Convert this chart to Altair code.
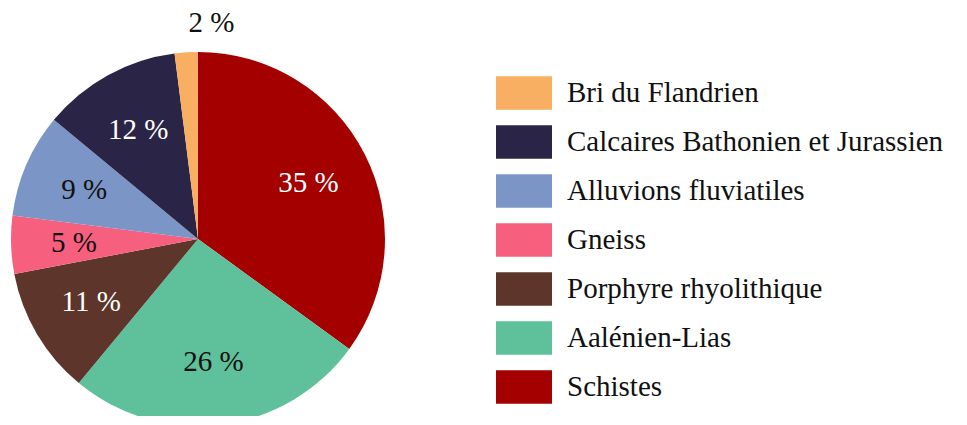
import altair as alt
import pandas as pd

categories = ["Schistes", "Aalénien-Lias", "Porphyre rhyolithique", "Gneiss",
              "Alluvions fluviatiles", "Calcaires Bathonien et Jurassien", "Bri du Flandrien"]
values = [35, 26, 11, 5, 9, 12, 2]
colors = ["#A40000", "#5EC19B", "#5E352A", "#F75F7F", "#7B96C6", "#2A2446", "#F9AF62"]

legend_order = list(reversed(categories))
legend_colors = list(reversed(colors))
dark_slices = ["Schistes", "Porphyre rhyolithique", "Calcaires Bathonien et Jurassien"]

df = pd.DataFrame({"cat": categories, "value": values})

CX, CY, R = 190, 231, 187
FONT = "Liberation Serif"

base = alt.Chart(df).transform_window(
    idx="row_number()"
).transform_calculate(
    label="datum.value + ' %'",
    r="datum.value < 3 ? 216 : 124",
).encode(
    theta=alt.Theta("value:Q", stack=True),
    order=alt.Order("idx:Q"),
)

arcs = base.mark_arc(outerRadius=R).encode(
    x=alt.value(CX),
    y=alt.value(CY),
    color=alt.Color(
        "cat:N",
        scale=alt.Scale(domain=legend_order, range=legend_colors),
        legend=alt.Legend(
            title=None,
            orient="none",
            legendX=488,
            legendY=57,
            symbolType="M-1,-0.6H1V0.6H-1Z",
            symbolSize=3136,
            symbolStrokeWidth=0,
            symbolOpacity=1,
            labelFont=FONT,
            labelFontSize=29,
            labelColor="#111111",
            labelOffset=15,
            labelLimit=500,
            rowPadding=4,
        ),
    ),
)

cond = "indexof(" + str(dark_slices) + ", datum.cat) >= 0"
texts = base.mark_text(font=FONT, fontSize=29, baseline="middle", align="center").encode(
    x=alt.value(CX),
    y=alt.value(CY),
    radius=alt.Radius("r:Q", scale=None),
    text="label:N",
    fill=alt.condition(cond, alt.value("#ffffff"), alt.value("#111111")),
)

chart = alt.layer(arcs, texts).properties(
    width=950, height=408,
    autosize=alt.AutoSizeParams(type="none"),
    padding=0,
).configure_view(stroke=None)

chart.save("out.html", embed_options={"renderer": "svg", "actions": False})
